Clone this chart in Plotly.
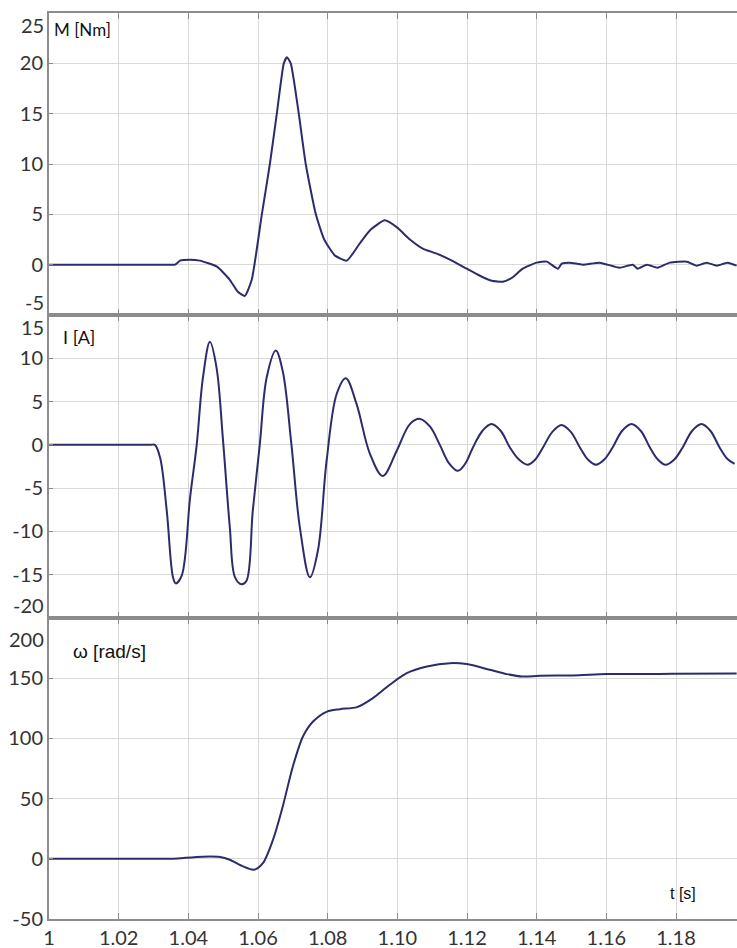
import plotly.graph_objects as go
from plotly.subplots import make_subplots

# ---- data ----
t_M = [1.0, 1.02, 1.034, 1.0362, 1.0376, 1.0405, 1.0433, 1.0482, 1.0519, 1.0542, 1.0562, 1.0582,
       1.0611, 1.0634, 1.0654, 1.0674, 1.0683, 1.0694, 1.0717, 1.0737, 1.0766, 1.0790,
       1.0821, 1.0855, 1.0872, 1.0892, 1.0921, 1.0964, 1.0999, 1.1036, 1.1073,
       1.1113, 1.1151, 1.1199, 1.1237, 1.1271, 1.1303, 1.1329, 1.1360, 1.1400, 1.1429,
       1.1461, 1.1472, 1.1495, 1.1532, 1.1581, 1.1638, 1.1676, 1.1690, 1.1716, 1.1747,
       1.1782, 1.1831, 1.1859, 1.1888, 1.1917, 1.1948, 1.1974]
M = [0, 0, 0, 0, 0.4, 0.5, 0.4, -0.2, -1.5, -2.7, -3.1, -1.5,
     5.0, 10.0, 15.0, 20.0, 20.6, 20.0, 15.0, 10.0, 5.0, 2.5,
     0.9, 0.4, 1.1, 2.1, 3.4, 4.4, 3.7, 2.5, 1.6,
     1.1, 0.5, -0.4, -1.1, -1.6, -1.7, -1.3, -0.4, 0.2, 0.3,
     -0.4, 0.1, 0.2, 0.0, 0.2, -0.3, 0.0, -0.4, 0.0, -0.3,
     0.2, 0.3, -0.1, 0.2, -0.1, 0.2, -0.1]

t_I = [1.0, 1.02, 1.029, 1.0304, 1.0319, 1.0338, 1.0356, 1.0364, 1.0381, 1.0405, 1.0424, 1.0442,
       1.0462, 1.0481, 1.0499, 1.0519, 1.0534, 1.0553, 1.0567, 1.0585, 1.0605, 1.0625,
       1.0651, 1.0671, 1.0696, 1.0720, 1.0749, 1.0772, 1.0797, 1.0826, 1.0852, 1.0883,
       1.0921, 1.0958, 1.0998, 1.1036, 1.1065, 1.1094, 1.1122, 1.1148, 1.1174, 1.1196,
       1.1217, 1.1244, 1.1270, 1.1297, 1.1323, 1.1349, 1.1374, 1.1396, 1.1418, 1.1445,
       1.1471, 1.1498, 1.1524, 1.1547, 1.1570, 1.1594, 1.1618, 1.1645, 1.1672, 1.1699,
       1.1725, 1.1748, 1.1770, 1.1795, 1.1819, 1.1846, 1.1873, 1.1899, 1.1925, 1.1947,
       1.1968]
I = [0, 0, 0, 0, -1.5, -7.6, -15.3, -16.0, -15.1, -6.1, 0.0, 7.8,
     11.9, 8.9, 0.8, -9.5, -15.3, -16.1, -15.7, -7.6, 0.0, 7.8,
     10.9, 8.5, 0.0, -9.5, -15.3, -12.2, -1.8, 5.9, 7.7, 4.7,
     -1.0, -3.6, -0.7, 2.4, 3.0, 2.1, 0.0, -2.1, -3.0, -2.1,
     -0.3, 1.6, 2.4, 1.6, -0.3, -1.7, -2.3, -1.7, -0.3, 1.5,
     2.3, 1.5, -0.3, -1.7, -2.3, -1.7, -0.3, 1.6, 2.4, 1.6,
     -0.3, -1.7, -2.3, -1.7, -0.3, 1.6, 2.4, 1.6, -0.3, -1.6,
     -2.2]

t_w = [1.0, 1.02, 1.033, 1.0356, 1.0442, 1.0491, 1.0519, 1.0557, 1.0588, 1.0614, 1.0643, 1.0671,
       1.0700, 1.0729, 1.0758, 1.0798, 1.0835, 1.0884, 1.0930, 1.0978, 1.1027, 1.1085,
       1.1151, 1.1199, 1.1265, 1.1314, 1.1360, 1.1409, 1.1504, 1.1601, 1.1697, 1.1791,
       1.1974]
w = [0, 0, 0, 0, 1.8, 1.5, -0.8, -6.3, -9.1, -3.6, 15.8, 43.5,
     76.7, 101.6, 114.0, 122.3, 124.3, 126.0, 133.5, 144.5, 154.2, 159.7,
     162.5, 161.7, 157.0, 153.4, 151.4, 152.0, 152.3, 153.4, 153.4, 153.7,
     154.0]

x_ticks = [1.0, 1.02, 1.04, 1.06, 1.08, 1.10, 1.12, 1.14, 1.16, 1.18]
x_ticktext = ["1", "1.02", "1.04", "1.06", "1.08", "1.10", "1.12", "1.14", "1.16", "1.18"]
M_ticks = [-5, 0, 5, 10, 15, 20, 25]
I_ticks = [-20, -15, -10, -5, 0, 5, 10, 15]
w_ticks = [-50, 0, 50, 100, 150, 200]
M_range = [-5, 25]
I_range = [-20, 15]
w_range = [-50, 200]
x_range = [1.0, 1.1975]

LINE = "#2c2c6c"
AXC = "#8c8c8c"
GRID = "#d9d9d9"
TXT = "#333333"
TICKFONT = dict(family="Lato", size=20, color=TXT)

fig = make_subplots(rows=3, cols=1, shared_xaxes=True, vertical_spacing=0,
                    row_heights=[302, 303, 301])

fig.add_trace(go.Scatter(x=t_M, y=M, mode="lines",
                         line=dict(color=LINE, width=2, shape="spline", smoothing=0.5)), row=1, col=1)
fig.add_trace(go.Scatter(x=t_I, y=I, mode="lines",
                         line=dict(color=LINE, width=2, shape="spline", smoothing=1.0)), row=2, col=1)
fig.add_trace(go.Scatter(x=t_w, y=w, mode="lines",
                         line=dict(color=LINE, width=2, shape="spline", smoothing=0.8)), row=3, col=1)

for r in (1, 2, 3):
    fig.update_xaxes(range=x_range, tickvals=x_ticks, ticktext=x_ticktext,
                     showgrid=True, gridcolor=GRID, gridwidth=1, zeroline=False,
                     showline=True, linecolor=AXC, linewidth=2, mirror="ticks",
                     ticks="inside", ticklen=6, tickcolor=AXC, tickwidth=1,
                     showticklabels=(r == 3), tickfont=TICKFONT, row=r, col=1)


def blank_ext(ticks, keep_low=False):
    out = []
    for i, v in enumerate(ticks):
        if i == len(ticks) - 1 or (i == 0 and not keep_low):
            out.append("")
        else:
            out.append(str(v))
    return out


for r, rng, tk, keep_low in ((1, M_range, M_ticks, False), (2, I_range, I_ticks, False),
                             (3, w_range, w_ticks, True)):
    fig.update_yaxes(range=rng, tickvals=tk, ticktext=blank_ext(tk, keep_low),
                     showgrid=True, gridcolor=GRID, gridwidth=1, zeroline=False,
                     showline=True, linecolor=AXC, linewidth=2, mirror=False,
                     ticks="inside", ticklen=4, tickcolor=AXC, tickwidth=1,
                     tickfont=TICKFONT, row=r, col=1)

annotations = []
# extreme tick labels pushed inside their panels
ext = [("y", M_ticks[-1], "top"), ("y", M_ticks[0], "bottom"),
       ("y2", I_ticks[-1], "top"), ("y2", I_ticks[0], "bottom"),
       ("y3", w_ticks[-1], "top")]
for yref, val, anchor in ext:
    annotations.append(dict(xref="paper", x=0, yref=yref, y=val, text=str(val),
                            xanchor="right", yanchor=anchor, xshift=-3,
                            yshift=(-7 if yref == "y3" else (2 if anchor == "top" else -1)),
                            showarrow=False, font=TICKFONT))

annotations += [
    dict(xref="x domain", yref="y domain", x=0.004, y=0.944, text="M [Nm]",
         xanchor="left", yanchor="middle", showarrow=False,
         font=dict(family="Lato", size=17, color="#111111")),
    dict(xref="x2 domain", yref="y2 domain", x=0.018, y=0.927, text="I [A]",
         xanchor="left", yanchor="middle", showarrow=False,
         font=dict(family="Lato", size=18, color="#111111")),
    dict(xref="x3 domain", yref="y3 domain", x=0.032, y=0.89, text="ω [rad/s]",
         xanchor="left", yanchor="middle", showarrow=False,
         font=dict(family="Liberation Sans", size=19, color="#111111")),
    dict(xref="x3 domain", yref="y3 domain", x=0.9, y=0.086, text="t [s]",
         xanchor="left", yanchor="middle", showarrow=False,
         font=dict(family="Liberation Sans", size=16, color="#111111")),
]

fig.update_layout(width=737, height=948, margin=dict(l=49, r=0, t=13, b=29),
                  paper_bgcolor="white", plot_bgcolor="white", showlegend=False,
                  annotations=annotations)

fig.write_html("out.html", config={"displayModeBar": False},
               post_script="document.body.style.margin='0';document.body.style.overflow='hidden';")
